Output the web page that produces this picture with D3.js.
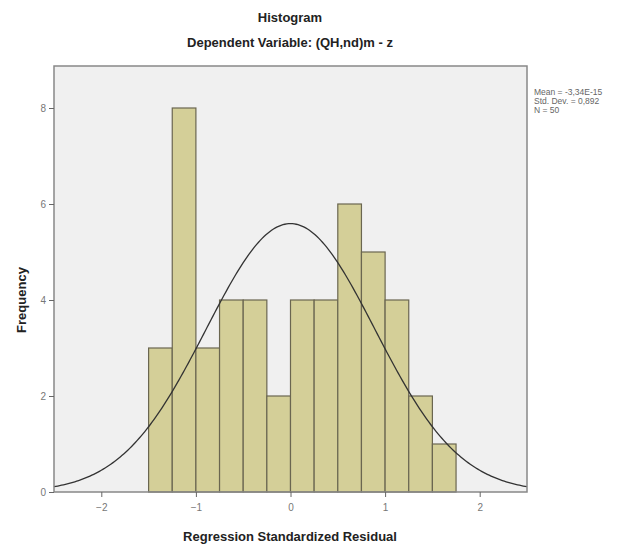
<!DOCTYPE html>
<html><head><meta charset="utf-8">
<script src="https://cdn.jsdelivr.net/npm/d3@7"></script>
<style>body{margin:0;background:#fff}svg{display:block}</style>
</head><body>
<script>
const binStarts = [-1.5,-1.25,-1.0,-0.75,-0.5,-0.25,0,0.25,0.5,0.75,1.0,1.25,1.5];
const freqs = [3,8,3,4,4,2,4,4,6,5,4,2,1];
const binWidth = 0.25;
const xTicks = [-2,-1,0,1,2];
const yTicks = [0,2,4,6,8];
const stats = {mean:-3.34e-15, sd:0.892, n:50};
const legendLines = ["Mean = -3,34E-15","Std. Dev. = 0,892","N = 50"];

const W=635,H=547;
const m={l:54,r:527,t:66,b:492};
const svg=d3.select("body").append("svg").attr("width",W).attr("height",H);
const x=d3.scaleLinear().domain([-2.5,2.5]).range([m.l,m.r]);
const y=d3.scaleLinear().domain([0,8.875]).range([m.b,m.t]);

svg.append("rect").attr("x",m.l).attr("y",m.t).attr("width",m.r-m.l).attr("height",m.b-m.t)
  .attr("fill","#f0f0f0");

svg.append("g").selectAll("rect").data(binStarts).join("rect")
  .attr("x",d=>x(d)).attr("width",d=>x(d+binWidth)-x(d))
  .attr("y",(d,i)=>y(freqs[i])).attr("height",(d,i)=>y(0)-y(freqs[i]))
  .attr("fill","#d4cf98").attr("stroke","#6a6650").attr("stroke-width",1.2);

const pdf=v=>stats.n*binWidth/(stats.sd*Math.sqrt(2*Math.PI))*Math.exp(-0.5*((v-stats.mean)/stats.sd)**2);
const pts=d3.range(-2.5,2.5001,0.02);
svg.append("path").datum(pts).attr("fill","none").attr("stroke","#333").attr("stroke-width",1.3)
  .attr("d",d3.line().x(d=>x(d)).y(d=>y(pdf(d))));

svg.append("rect").attr("x",m.l).attr("y",m.t).attr("width",m.r-m.l).attr("height",m.b-m.t)
  .attr("fill","none").attr("stroke","#888").attr("stroke-width",1.5);

const xa=svg.append("g").attr("transform",`translate(0,${m.b})`)
  .call(d3.axisBottom(x).tickValues(xTicks).tickSize(5).tickFormat(d3.format("d")));
const ya=svg.append("g").attr("transform",`translate(${m.l},0)`)
  .call(d3.axisLeft(y).tickValues(yTicks).tickSize(5).tickFormat(d3.format("d")));
[xa,ya].forEach(a=>{a.select(".domain").remove();
  a.selectAll("line").attr("stroke","#666");
  a.selectAll("text").attr("fill","#777").attr("font-family","Liberation Sans, Arial").attr("font-size",10);});
xa.selectAll("text").attr("dy","1.1em");
ya.selectAll("text").attr("x",-8);

const tf="Liberation Sans, Arial, sans-serif";
svg.append("text").attr("x",290).attr("y",22).attr("text-anchor","middle").attr("font-family",tf)
  .attr("font-weight","bold").attr("font-size",13).attr("fill","#222").text("Histogram");
svg.append("text").attr("x",290).attr("y",47).attr("text-anchor","middle").attr("font-family",tf)
  .attr("font-weight","bold").attr("font-size",13).attr("fill","#222").text("Dependent Variable: (QH,nd)m - z");
svg.append("text").attr("x",290).attr("y",541).attr("text-anchor","middle").attr("font-family",tf)
  .attr("font-weight","bold").attr("font-size",13).attr("fill","#222").text("Regression Standardized Residual");
svg.append("text").attr("transform","translate(26,300) rotate(-90)").attr("text-anchor","middle").attr("font-family",tf)
  .attr("font-weight","bold").attr("font-size",13).attr("fill","#222").text("Frequency");

svg.append("g").selectAll("text").data(legendLines).join("text")
  .attr("x",534).attr("y",(d,i)=>95+i*9).attr("font-family",tf).attr("font-size",8.5).attr("fill","#666").text(d=>d);
</script>
</body></html>
